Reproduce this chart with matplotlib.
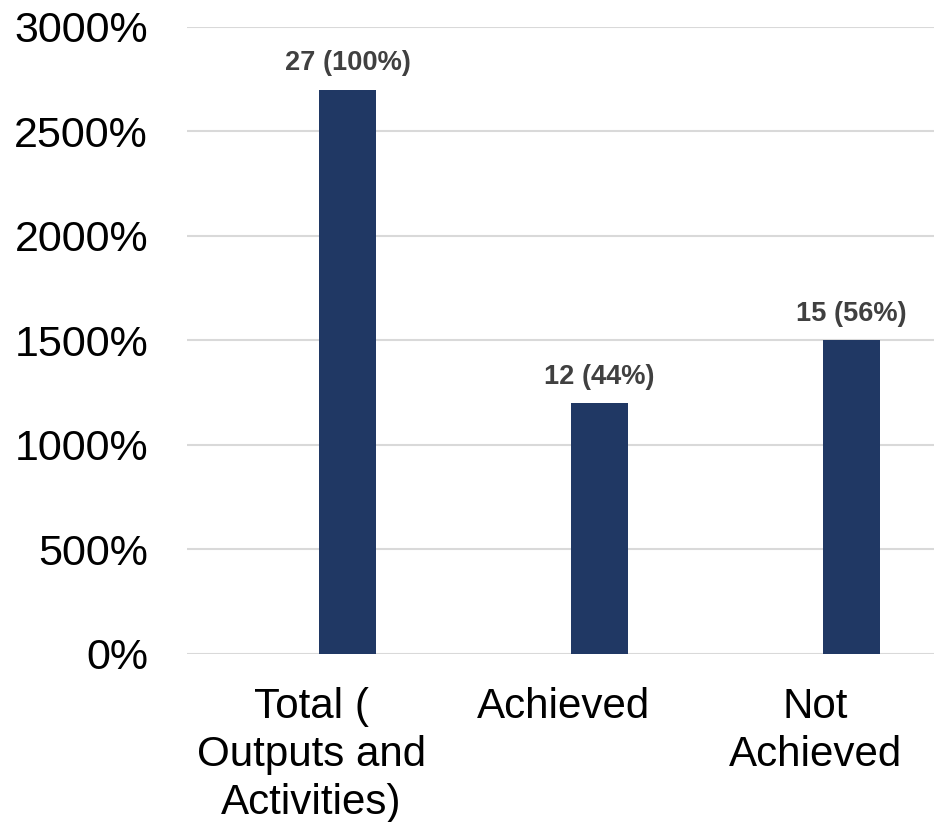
import matplotlib.pyplot as plt

categories = ["Total (\nOutputs and\nActivities)", "Achieved", "Not\nAchieved"]
values = [2700, 1200, 1500]
bar_labels = ["27 (100%)", "12 (44%)", "15 (56%)"]
yticks = [0, 500, 1000, 1500, 2000, 2500, 3000]

plt.rcParams["font.family"] = ["Liberation Sans", "DejaVu Sans"]

fig = plt.figure(figsize=(9.34, 8.22), dpi=100)
ax = fig.add_axes([0.2002, 0.2044, 0.7998, 0.7628])

# bars sit a bit right of the category centre (empty second series slot)
x = list(range(len(categories)))
bar_x = [i + 0.143 for i in x]
bars = ax.bar(bar_x, values, width=0.223, color="#203864", zorder=3)

for bar, text in zip(bars, bar_labels):
    ax.annotate(text, (bar.get_x() + bar.get_width() / 2, bar.get_height()),
                xytext=(0, 13.8), textcoords="offset points",
                ha="center", va="baseline", fontsize=19.6,
                fontweight="bold", color="#404040")

ax.set_xlim(-0.494, 2.47)
ax.set_ylim(0, 3000)
ax.set_yticks(yticks)
ax.set_yticklabels([f"{t}%" for t in yticks])
ax.set_xticks(x)
ax.set_xticklabels(categories, linespacing=1.25)

ax.grid(axis="y", color="#d9d9d9", linewidth=1.5, zorder=0)
ax.tick_params(axis="y", length=0, pad=28, labelsize=31)
ax.tick_params(axis="x", length=0, pad=24, labelsize=30.3)
for side in ["top", "right", "left", "bottom"]:
    ax.spines[side].set_visible(False)

fig.savefig("out.png", dpi=100)
